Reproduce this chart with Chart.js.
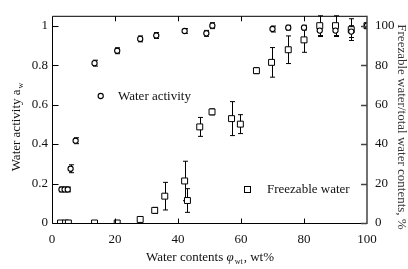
<!DOCTYPE html>
<html>
<head>
<meta charset="utf-8">
<script src="https://cdn.jsdelivr.net/npm/chart.js@4.4.0/dist/chart.umd.min.js"></script>
<style>
  html, body { margin: 0; padding: 0; background: #fff; }
  #wrap { width: 408px; height: 269px; }
</style>
</head>
<body>
<div id="wrap"><canvas id="chart"></canvas></div>
<script>
// water activity (circles, left axis)
const awWater = [3, 4, 5, 5.9, 7.5, 13.5, 20.7, 28, 33.1, 42.1, 49, 50.9, 70, 75, 80, 85, 90, 95, 100];
const awValues = [0.17, 0.17, 0.17, 0.275, 0.417, 0.81, 0.873, 0.933, 0.95, 0.973, 0.961, 1.0, 0.983, 0.99, 0.99, 0.975, 0.975, 0.97, 1.0];
const awErr = [0.012, 0.012, 0.012, 0.02, 0.015, 0.015, 0.015, 0.015, 0.015, 0.012, 0.015, 0.015, 0.015, 0.012, 0.012, 0.03, 0.03, 0.03, 0.01];

// freezable water / total water (squares, right axis)
const fwWater = [2.7, 4.3, 5.2, 13.5, 20.7, 28, 32.6, 35.8, 42.1, 43, 46.9, 50.8, 57, 59.8, 64.9, 69.7, 75, 80, 85, 90, 95, 100];
const fwValues = [0, 0, 0, 0, 0, 1.8, 6.4, 13.6, 21.3, 11.4, 48.7, 56.3, 52.9, 50.1, 77.2, 81.4, 87.8, 92.8, 100, 100, 98, 100];
const fwErr = [0, 0, 0, 0, 0, 0.5, 1.5, 7, 10, 6, 4.8, 1.5, 8.6, 4.8, 1.5, 7.5, 7, 6.3, 5, 5, 5.5, 1.5];

const xTicks = [0, 20, 40, 60, 80, 100];
const leftTicks = [0, 0.2, 0.4, 0.6, 0.8, 1];
const rightTicks = [0, 20, 40, 60, 80, 100];

const SERIF = '"Liberation Serif", "Times New Roman", serif';

const toPts = (xs, ys) => xs.map((x, i) => ({ x: x, y: ys[i] }));

const errorBars = {
  id: 'errorBars',
  beforeDatasetsDraw(chart) {
    const ctx = chart.ctx;
    const xs = chart.scales.x;
    const a = chart.chartArea;
    ctx.save();
    ctx.beginPath();
    ctx.rect(a.left, a.top - 1, a.right - a.left, a.bottom - a.top + 2);
    ctx.clip();
    ctx.strokeStyle = '#000';
    ctx.lineWidth = 1;
    chart.data.datasets.forEach((ds, i) => {
      const ys = chart.scales[ds.yAxisID];
      ds.data.forEach((p, j) => {
        const e = ds.errors[j];
        if (!e) return;
        const x = Math.round(xs.getPixelForValue(p.x)) + 0.5;
        const y1 = ys.getPixelForValue(p.y + e);
        const y2 = ys.getPixelForValue(p.y - e);
        ctx.beginPath();
        ctx.moveTo(x, y1); ctx.lineTo(x, y2);
        ctx.moveTo(x - 2.5, y1); ctx.lineTo(x + 2.5, y1);
        ctx.moveTo(x - 2.5, y2); ctx.lineTo(x + 2.5, y2);
        ctx.stroke();
      });
    });
    ctx.restore();
  }
};

const frame = {
  id: 'frame',
  afterDraw(chart) {
    const ctx = chart.ctx;
    const a = chart.chartArea;
    const xs = chart.scales.x, yl = chart.scales.y, yr = chart.scales.y2;
    const L = a.left + 0.5, R = a.right, T = a.top + 0.5, B = a.bottom + 0.5;
    ctx.save();
    ctx.strokeStyle = '#000';
    ctx.lineWidth = 1;
    ctx.beginPath();
    ctx.moveTo(R, T); ctx.lineTo(L, T); ctx.lineTo(L, B); ctx.lineTo(R, B);
    // inward ticks
    xTicks.slice(1, -1).forEach(v => {
      const x = Math.round(xs.getPixelForValue(v)) + 0.5;
      ctx.moveTo(x, B); ctx.lineTo(x, B - 5);
      ctx.moveTo(x, T); ctx.lineTo(x, T + 5);
    });
    leftTicks.forEach(v => {
      const y = Math.round(yl.getPixelForValue(v)) + 0.5;
      ctx.moveTo(L, y); ctx.lineTo(L + 6, y);
    });
    ctx.stroke();
    ctx.strokeStyle = '#444';
    ctx.lineWidth = 1.5;
    ctx.beginPath();
    ctx.moveTo(R, T - 0.5); ctx.lineTo(R, B + 0.5);
    rightTicks.forEach(v => {
      const y = Math.round(yr.getPixelForValue(v)) + 0.5;
      ctx.moveTo(R, y); ctx.lineTo(R - 6, y);
    });
    ctx.stroke();

    // in-plot labels
    ctx.fillStyle = '#111';
    ctx.font = '13px ' + SERIF;
    ctx.textBaseline = 'middle';
    ctx.textAlign = 'left';
    ctx.lineWidth = 1.1;
    ctx.strokeStyle = '#000';
    ctx.beginPath();
    ctx.arc(100.7, 96, 2.6, 0, Math.PI * 2);
    ctx.stroke();
    ctx.fillText('Water activity', 118, 96.5);
    ctx.lineWidth = 1;
    ctx.strokeRect(244.5, 186.5, 6, 6);
    ctx.fillText('Freezable water', 267, 189.5);

    // x axis title
    const y0 = 258;
    const parts = [
      ['Water contents ', '13px ' + SERIF, 0],
      ['\u03c6', 'italic 13px ' + SERIF, 0],
      ['wt', '8px ' + SERIF, 4],
      [', wt%', '13px ' + SERIF, 0]
    ];
    let w = 0;
    parts.forEach(p => { ctx.font = p[1]; w += ctx.measureText(p[0]).width + (p[2] ? 2 : 0); });
    let x = 210 - w / 2;
    parts.forEach(p => {
      ctx.font = p[1];
      ctx.fillText(p[0], x + (p[2] ? 1 : 0), y0 + p[2]);
      x += ctx.measureText(p[0]).width + (p[2] ? 2 : 0);
    });

    // left title
    ctx.save();
    ctx.translate(16.5, 127);
    ctx.rotate(-Math.PI / 2);
    ctx.font = '13px ' + SERIF;
    const m1 = 'Water activity a';
    const w1 = ctx.measureText(m1).width;
    ctx.font = '8px ' + SERIF;
    const w2 = ctx.measureText('w').width;
    const sx = -(w1 + w2 + 1) / 2;
    ctx.font = '13px ' + SERIF;
    ctx.fillText(m1, sx, 0);
    ctx.font = '8px ' + SERIF;
    ctx.fillText('w', sx + w1 + 1, 4);
    ctx.restore();

    // right title
    ctx.save();
    ctx.translate(401.5, 127);
    ctx.rotate(Math.PI / 2);
    ctx.font = '13px ' + SERIF;
    ctx.textAlign = 'center';
    ctx.fillStyle = '#333';
    ctx.fillText('Freezable water/total water contents, %', 0, 0);
    ctx.restore();

    ctx.restore();
  }
};

new Chart(document.getElementById('chart'), {
  type: 'scatter',
  data: {
    datasets: [
      {
        label: 'Water activity',
        data: toPts(awWater, awValues),
        errors: awErr,
        yAxisID: 'y',
        pointStyle: 'circle',
        pointRadius: 2.6,
        pointBorderWidth: 1.1,
        borderColor: '#000',
        backgroundColor: '#fff'
      },
      {
        label: 'Freezable water',
        data: toPts(fwWater, fwValues),
        errors: fwErr,
        yAxisID: 'y2',
        pointStyle: 'rect',
        pointRadius: 4.2,
        pointBorderWidth: 1,
        borderColor: '#000',
        backgroundColor: '#fff'
      }
    ]
  },
  options: {
    responsive: true,
    maintainAspectRatio: false,
    animation: false,
    layout: { padding: { top: 14, left: 0, right: 0, bottom: 0 } },
    plugins: { legend: { display: false }, tooltip: { enabled: false } },
    scales: {
      x: {
        type: 'linear', position: 'bottom', min: 0, max: 100,
        afterBuildTicks: s => { s.ticks = xTicks.map(v => ({ value: v })); },
        afterFit: s => { s.height = 46; },
        grid: { display: false, drawTicks: false },
        border: { display: false },
        ticks: { padding: 9, color: '#111', font: { family: SERIF, size: 13 }, maxRotation: 0 }
      },
      y: {
        type: 'linear', position: 'left', min: 0, max: 1.05,
        afterBuildTicks: s => { s.ticks = leftTicks.map(v => ({ value: v })); },
        afterFit: s => { s.width = 52; },
        grid: { display: false, drawTicks: false },
        border: { display: false },
        ticks: { padding: 4, color: '#111', font: { family: SERIF, size: 13 }, callback: v => String(v) }
      },
      y2: {
        type: 'linear', position: 'right', min: 0, max: 105,
        afterBuildTicks: s => { s.ticks = rightTicks.map(v => ({ value: v })); },
        afterFit: s => { s.width = 41; },
        grid: { display: false, drawTicks: false },
        border: { display: false },
        ticks: { padding: 8, color: '#111', font: { family: SERIF, size: 13 }, callback: v => String(v) }
      }
    }
  },
  plugins: [errorBars, frame]
});
</script>
</body>
</html>
